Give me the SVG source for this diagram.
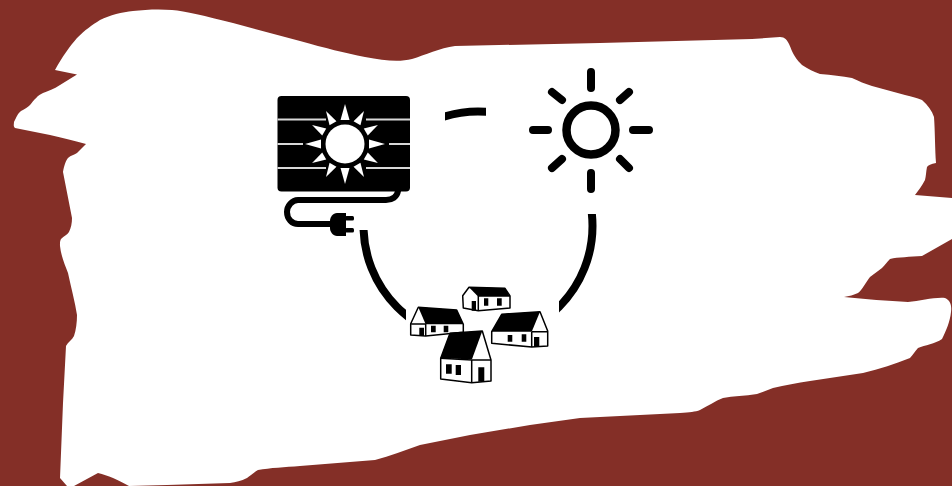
<svg xmlns="http://www.w3.org/2000/svg" width="952" height="486" viewBox="0 0 952 486">
<style>
.h{fill:#fff;stroke:#000;stroke-width:1.5;stroke-linejoin:round}
.k{fill:#000}
.w{fill:#fff}
.pl{stroke:#d8d8d8;stroke-width:1.8;fill:none}
.rr{stroke:#000;stroke-width:8;stroke-linecap:round;fill:none}
.c{stroke:#000;stroke-width:8;fill:none}
.soft{filter:url(#soft)}
</style>
<defs>
<filter id="soft" x="-5%" y="-5%" width="110%" height="110%"><feGaussianBlur stdDeviation="0.45"/></filter>
<clipPath id="cl"><rect x="340" y="230" width="66" height="120"/></clipPath>
<clipPath id="cr"><rect x="559" y="214" width="60" height="120"/></clipPath>
<clipPath id="ct"><rect x="445" y="90" width="41" height="40"/></clipPath>
<polygon id="ray" points="-4.500,-24 0,-40 4.500,-24" fill="#fff"/>
<polygon id="ray2" points="-4,-24 0,-38 4,-24" fill="#fff"/>
</defs>
<rect id="background" width="952" height="486" fill="#842f27"/>
<path id="brush" fill="#fff" d="M55 70C62 57 70 46 77 38C85 30 92 25 100 20C110 15 122 12 133 11C145 9.500 160 9 172 10C185 11 205 16 233 23L300 41C325 48 345 53 365 57C385 61 400 62 412 59C425 55 440 48 455 46L600 43L752 39L780 37C785 37 787 40 789 44C791 48 792 52 794 55C797 60 800 63 802 65C808 69 814 72 820 74C832 75 842 76 852 78C859 81 865 84 872 86L905 95C912 97 918 98 922 100C928 105 932 111 934 117C935 130 935 150 936 163C931 164 928 165 927 167C926 172 926 176 925 180C922 186 918 191 915 195L952 198V239L922 256C910 257 898 257 890 259C887 262 885 265 882 268C878 271 874 274 870 277C866 282 862 290 858 293C854 295 849 296 844 297C865 299 888 301 908 302C920 301 935 297 945 298C950 300 952 305 951 312C950 322 946 331 942 339C935 344 925 345 918 348C915 351 913 355 910 358C895 364 880 369 863 373L810 381C797 383 785 385 773 388L757 394C745 396 733 396 723 398C715 401 708 406 700 410C695 412 690 412 680 413L640 415L580 418L530 425L470 435L420 445C405 450 390 456 375 460L300 466C285 467 270 468 258 470C253 473 250 476 247 478C241 481 236 482 230 483L167 485L129 486C124 483 119 481 113 478C108 476 103 474 98 473L74 486H67L60 478L63 403L66 346C68 342 72 340 74 336C76 330 77 322 77 315C75 302 71 287 68 273C65 265 61 256 60 246C60 242 60 241 61 239C64 236 67 235 69 232C71 228 72 223 72 218L63 172C64 166 66 160 68 158C71 155 74 155 77 153C80 150 83 147 86 144C75 141 63 138 50 135L15 128C13 126 14 124 14 122C16 118 18 113 21 111C25 109 28 107 30 105C34 100 38 95 43 93C48 91 54 89 60 85L77 74.500Z"/>
<g id="connectors">
<circle class="c" cx="478" cy="226" r="114.500" clip-path="url(#cl)"/>
<circle class="c" cx="478" cy="226" r="114.500" clip-path="url(#cr)"/>
<circle class="c" cx="478" cy="226" r="114.500" clip-path="url(#ct)"/>
</g>
<g id="solar-panel" class="soft">
<rect class="k" x="277.500" y="96" width="132.500" height="95.500" rx="4"/>
<path class="pl" d="M277.500 119.500H326M366 119.500H410M277.500 144H303M389 144H410M277.500 168H326M366 168H410"/>
<g transform="translate(345 144)">
<use href="#ray"/>
<use href="#ray2" transform="rotate(30)"/>
<use href="#ray2" transform="rotate(60)"/>
<use href="#ray" transform="rotate(90)"/>
<use href="#ray2" transform="rotate(120)"/>
<use href="#ray2" transform="rotate(150)"/>
<use href="#ray" transform="rotate(180)"/>
<use href="#ray2" transform="rotate(210)"/>
<use href="#ray2" transform="rotate(240)"/>
<use href="#ray" transform="rotate(270)"/>
<use href="#ray2" transform="rotate(300)"/>
<use href="#ray2" transform="rotate(330)"/>
<circle class="w" r="19.500"/>
</g>
<path fill="none" stroke="#000" stroke-width="6" d="M398 190V191C397 197 392 200 386 200H298C292 200 287 206 287 212C287 219 292 224 298 224H334"/>
<path class="k" d="M337 213H346V236H337C333 236 330 232 330 228V221C330 217 333 213 337 213Z"/>
<rect class="k" x="345" y="216" width="9" height="4.500" rx="1.500"/>
<rect class="k" x="345" y="228" width="9" height="4.500" rx="1.500"/>
</g>
<g id="sun" class="soft">
<circle cx="591" cy="130" r="24.500" fill="none" stroke="#000" stroke-width="8.500"/>
<path class="rr" d="M591 72V88M591 173V189M533 130H548M633 130H649M552 92L562 100M629 92L620 100M552 168L562 159M629 168L620 159"/>
</g>
<g id="house-top" class="soft">
<path class="h" d="M462.700 295.700L469 287.300L505 288.300L510 296V308L478.300 310.700L463.300 308Z"/>
<path class="k" d="M469 287.300L505 288.300L510 296.700H478.300Z"/>
<path class="h" fill="none" d="M478.300 296V310.700"/>
<path class="k" d="M471.700 301H476V310.700H471.700ZM484 298.300H488.300V305.700H484ZM497 298.300H501.700V305.700H497Z"/>
</g>
<g id="house-left" class="soft">
<path class="h" d="M418.300 307.300L456.700 310L463.300 324.300V332.300L425.700 336L410.700 335V323.700Z"/>
<path class="k" d="M418.300 307.300L456.700 310L463.300 324.300H425.700Z"/>
<path class="h" d="M410.700 324H425.700V336"/>
<path class="k" d="M419.300 327.700H424V336H419.300ZM431 325.700H435.700V332.300H431ZM443.700 325.700H448.300V332.300H443.700Z"/>
</g>
<g id="house-right" class="soft">
<path class="h" d="M540 311.700L547.700 331V346L531.700 347L491.700 343.300V331.700L501.700 314.300Z"/>
<path class="k" d="M540 311.700L501.700 314.300L491.700 331.700H531.700Z"/>
<path class="h" fill="none" d="M531.700 331.700V347M531.700 331.700H547.700"/>
<path class="k" d="M534 337H539.300V347H534ZM507.700 335H512.300V341.700H507.700ZM521.700 334.300H526.300V341.700H521.700Z"/>
</g>
<g id="house-front" class="soft">
<path class="h" d="M482.300 331L491 360V381L471.700 382.700L440.700 379V358.300L450 333.300Z"/>
<path class="k" d="M482.300 331L450 333.300L440.700 358.300L471.700 360Z"/>
<path class="h" fill="none" d="M471.700 360V382.700M440.700 358.300L471.700 360H491"/>
<path class="k" d="M478.300 367.300H484.300V381.700H478.300ZM446 364.300H451.700V373.700H446ZM455.700 365H461V375H455.700Z"/>
</g>
</svg>
